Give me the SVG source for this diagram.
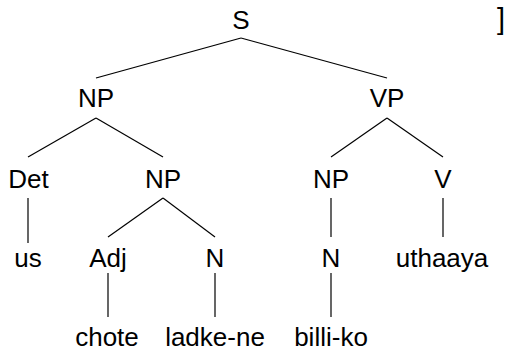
<svg xmlns="http://www.w3.org/2000/svg" width="508" height="351" viewBox="0 0 508 351">
<style>
text{font-family:"Liberation Sans",Arial,sans-serif;font-size:26px;fill:#000;text-anchor:middle}
.e line{stroke:#000;stroke-width:1.2}
</style>
<rect width="508" height="351" fill="#fff"/>
<g class="e" id="edges">
<line x1="241" y1="38" x2="96" y2="78"/>
<line x1="241" y1="38" x2="387" y2="78"/>
<line x1="96" y1="118" x2="28" y2="157"/>
<line x1="96" y1="118" x2="163" y2="157"/>
<line x1="387" y1="118" x2="331" y2="157"/>
<line x1="387" y1="118" x2="443" y2="157"/>
<line x1="28" y1="198" x2="28" y2="243"/>
<line x1="163" y1="198" x2="108" y2="237"/>
<line x1="163" y1="198" x2="215" y2="237"/>
<line x1="331" y1="198" x2="331" y2="237"/>
<line x1="443" y1="198" x2="443" y2="237"/>
<line x1="108" y1="273" x2="108" y2="317"/>
<line x1="215" y1="273" x2="215" y2="317"/>
<line x1="331" y1="273" x2="331" y2="317"/>
</g>
<g id="S"><text x="241" y="29">S</text></g>
<g id="bracket"><text x="501" y="29" style="font-size:29px">]</text></g>
<g id="NP1"><text x="96" y="107">NP</text></g>
<g id="VP"><text x="387" y="107">VP</text></g>
<g id="Det"><text x="28.5" y="188">Det</text></g>
<g id="NP2"><text x="163" y="188">NP</text></g>
<g id="NP3"><text x="331" y="188">NP</text></g>
<g id="V"><text x="443" y="188">V</text></g>
<g id="us"><text x="28" y="267">us</text></g>
<g id="Adj"><text x="108" y="267">Adj</text></g>
<g id="N1"><text x="215" y="267">N</text></g>
<g id="N2"><text x="331" y="267">N</text></g>
<g id="uthaaya"><text x="442" y="267">uthaaya</text></g>
<g id="chote"><text x="107" y="345.5">chote</text></g>
<g id="ladke-ne"><text x="215" y="345.5">ladke-ne</text></g>
<g id="billi-ko"><text x="331" y="345.5">billi-ko</text></g>
</svg>
